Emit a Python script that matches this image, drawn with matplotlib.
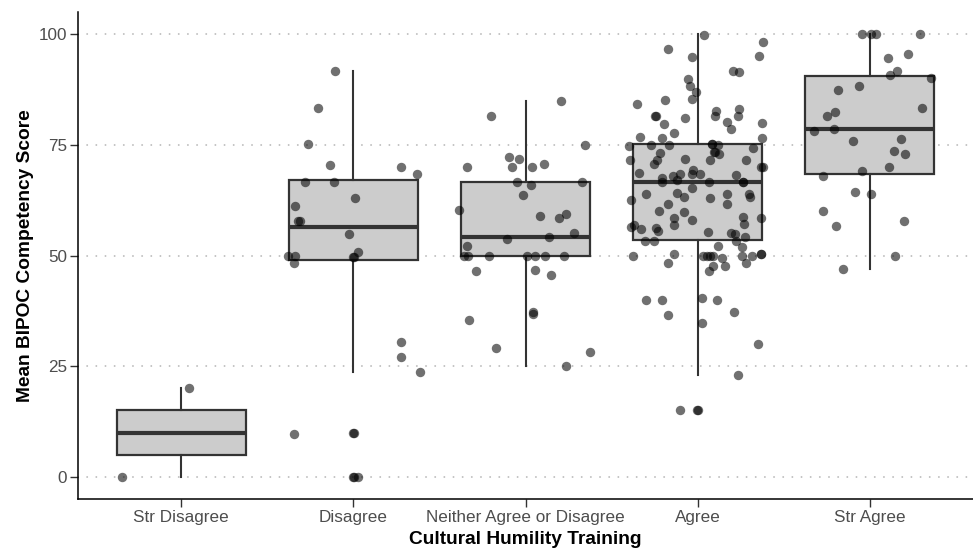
import matplotlib
matplotlib.use("Agg")
import matplotlib.pyplot as plt

plt.rcParams['font.family'] = ['Liberation Sans', 'DejaVu Sans']

categories = ["Str Disagree", "Disagree", "Neither Agree or Disagree", "Agree", "Str Agree"]

# box statistics
box_q1 = [5.0, 49.0, 49.8, 53.5, 68.3]
box_med = [10.0, 56.4, 54.2, 66.6, 78.5]
box_q3 = [15.0, 67.0, 66.6, 75.1, 90.5]
box_lo = [0.0, 23.6, 25.0, 22.9, 47.0]
box_hi = [20.0, 91.6, 85.0, 100.0, 100.0]

str_disagree_vals = [0.0, 20.0]
str_disagree_jit = [-0.345, 0.045]

disagree_vals = [91.6, 83.3, 75.1, 70.5, 66.5, 66.7, 63.1, 61.1, 57.7, 57.7,
                 54.8, 49.9, 49.8, 48.2, 49.6, 49.6, 50.7, 70.1, 68.4, 30.5,
                 27.1, 23.6, 9.7, 9.8, 9.8, 0.0, 0.0, 0.0]
disagree_jit = [-0.109, -0.203, -0.266, -0.138, -0.279, -0.110, 0.008, -0.337, -0.322, -0.308,
                -0.025, -0.382, -0.337, -0.347, -0.002, 0.003, 0.027, 0.275, 0.368, 0.277,
                0.277, 0.386, -0.345, 0.0, 0.002, 0.0, 0.002, 0.025]

neither_vals = [85.0, 81.5, 74.9, 72.3, 71.7, 70.0, 70.1, 70.7, 70.0, 66.6,
                66.0, 66.6, 63.7, 60.2, 59.0, 58.5, 59.3, 55.0, 53.7, 54.2,
                52.1, 49.8, 49.8, 49.8, 49.8, 49.8, 49.8, 49.8, 46.6, 46.7,
                45.7, 35.5, 37.3, 36.7, 29.2, 28.2, 25.0]
neither_jit = [0.207, -0.202, 0.347, -0.093, -0.037, -0.078, 0.037, 0.110, -0.337, -0.048,
               0.031, 0.331, -0.017, -0.388, 0.083, 0.194, 0.233, 0.283, -0.105, 0.136,
               -0.339, -0.359, -0.333, -0.211, 0.008, 0.058, 0.116, 0.221, -0.287, 0.058,
               0.147, -0.330, 0.041, 0.041, -0.173, 0.376, 0.236]

agree_vals = [99.9, 98.2, 96.7, 94.8, 95.0, 91.7, 91.4, 89.9, 88.2, 86.9,
              85.3, 85.1, 84.2, 82.6, 83.1, 81.4, 81.4, 81.5, 81.5, 81.1,
              80.1, 80.0, 79.6, 78.6, 77.7, 76.7, 76.6, 76.5, 74.7, 74.9,
              75.0, 75.1, 75.1, 74.9, 74.2, 73.4, 73.4, 73.0, 73.1, 71.6,
              71.5, 70.7, 71.9, 71.6, 71.6, 70.0, 70.1, 69.4, 68.7, 68.5,
              68.0, 68.3, 68.5, 68.2, 67.4, 66.6, 67.1, 66.5, 66.6, 66.6,
              65.2, 64.0, 63.3, 64.0, 64.1, 63.2, 63.1, 63.8, 62.6, 61.6,
              61.6, 60.0, 59.9, 58.1, 58.4, 58.6, 58.5, 57.1, 56.8, 56.4,
              57.0, 55.9, 56.3, 55.5, 55.4, 55.0, 54.8, 54.1, 53.2, 53.2,
              53.2, 52.0, 52.1, 49.9, 50.3, 49.9, 49.9, 49.9, 49.9, 49.5,
              49.9, 49.9, 50.3, 50.3, 48.3, 47.7, 47.7, 48.3, 46.6, 40.0,
              40.0, 40.5, 39.9, 36.6, 37.3, 34.8, 30.1, 22.9, 15.2, 15.2,
              15.2]
agree_jit = [0.039, 0.380, -0.171, -0.031, 0.357, 0.205, 0.238, -0.054, -0.047, -0.010,
             -0.035, -0.188, -0.353, 0.109, 0.242, -0.246, -0.244, 0.103, 0.236, -0.074,
             0.171, 0.374, -0.194, 0.192, -0.136, -0.335, -0.205, 0.372, -0.399, -0.273,
             -0.165, 0.081, 0.084, 0.120, 0.324, 0.097, 0.099, 0.122, -0.221, -0.390,
             -0.234, -0.252, -0.076, 0.070, 0.279, 0.366, 0.380, -0.027, -0.341, -0.103,
             -0.143, -0.035, 0.012, 0.225, -0.209, -0.209, -0.118, 0.064, 0.264, 0.266,
             -0.035, 0.300, 0.302, -0.297, -0.122, -0.078, 0.074, 0.173, -0.388, 0.169,
             -0.173, -0.223, -0.080, -0.031, -0.136, 0.264, 0.370, 0.269, -0.138, -0.388,
             -0.370, -0.331, -0.242, -0.229, 0.062, 0.194, 0.215, 0.277, 0.221, -0.306,
             -0.256, 0.256, 0.116, -0.378, -0.136, 0.029, 0.056, 0.070, 0.091, 0.140,
             0.256, 0.318, 0.366, 0.368, -0.174, 0.089, 0.157, 0.283, 0.068, -0.300,
             -0.205, 0.025, 0.110, -0.174, 0.209, 0.027, 0.351, 0.233, -0.105, -0.002,
             0.000]

str_agree_vals = [100.0, 100.0, 100.0, 100.0, 95.5, 94.5, 91.6, 90.7, 90.1, 88.3,
                  87.3, 83.3, 82.4, 81.6, 78.1, 78.6, 75.9, 76.4, 73.6, 72.9,
                  70.1, 69.0, 68.0, 64.3, 64.0, 60.0, 57.9, 56.6, 49.9, 46.9]
str_agree_jit = [-0.043, 0.006, 0.039, 0.293, 0.225, 0.105, 0.159, 0.120, 0.357, -0.060,
                 -0.186, 0.302, -0.199, -0.250, -0.324, -0.209, -0.095, 0.180, 0.143, 0.205,
                 0.110, -0.047, -0.272, -0.087, 0.008, -0.272, 0.198, -0.198, 0.147, -0.157]

y_ticks = [0, 25, 50, 75, 100]

all_vals = [str_disagree_vals, disagree_vals, neither_vals, agree_vals, str_agree_vals]
all_jit = [str_disagree_jit, disagree_jit, neither_jit, agree_jit, str_agree_jit]

fig = plt.figure(figsize=(9.73, 5.49), dpi=100)
ax = fig.add_axes([78 / 973, 50 / 549, 895 / 973, 487 / 549])

positions = list(range(1, len(categories) + 1))

for yt in y_ticks:
    ax.axhline(yt, color='#BDBDBD', lw=1.4, linestyle=(0, (0.01, 4.7)),
               dash_capstyle='round', zorder=0)

stats = []
for i in range(len(categories)):
    stats.append({'med': box_med[i], 'q1': box_q1[i], 'q3': box_q3[i],
                  'whislo': box_lo[i], 'whishi': box_hi[i], 'fliers': []})

ax.bxp(stats, positions=positions, widths=0.75, patch_artist=True,
       showcaps=False, showfliers=False,
       boxprops=dict(facecolor='#CCCCCC', edgecolor='#333333', linewidth=1.6),
       medianprops=dict(color='#333333', linewidth=3.0, solid_capstyle='butt'),
       whiskerprops=dict(color='#333333', linewidth=1.5),
       zorder=2)

for i, (vals, jit) in enumerate(zip(all_vals, all_jit)):
    xs = [positions[i] + j for j in jit]
    ax.scatter(xs, vals, s=46, color='black', alpha=0.56, linewidths=0, zorder=3)

ax.set_xlim(0.4, 5.6)
ax.set_ylim(-5, 105)
ax.set_xticks(positions)
ax.set_xticklabels(categories)
ax.set_yticks(y_ticks)
ax.set_yticklabels([str(t) for t in y_ticks])

for s in ['top', 'right']:
    ax.spines[s].set_visible(False)
for s in ['left', 'bottom']:
    ax.spines[s].set_color('black')
    ax.spines[s].set_linewidth(1.1)

ax.tick_params(axis='both', which='major', length=5.5, width=1.0, color='#333333',
               labelsize=12.3, labelcolor='#4D4D4D', pad=2.5)

ax.set_xlabel("Cultural Humility Training", fontsize=13.8, fontweight='bold',
              color='black', labelpad=4.5)
ax.set_ylabel("Mean BIPOC Competency Score", fontsize=13.8, fontweight='bold',
              color='black', labelpad=3)

fig.savefig("out.png", dpi=100, facecolor='white')
